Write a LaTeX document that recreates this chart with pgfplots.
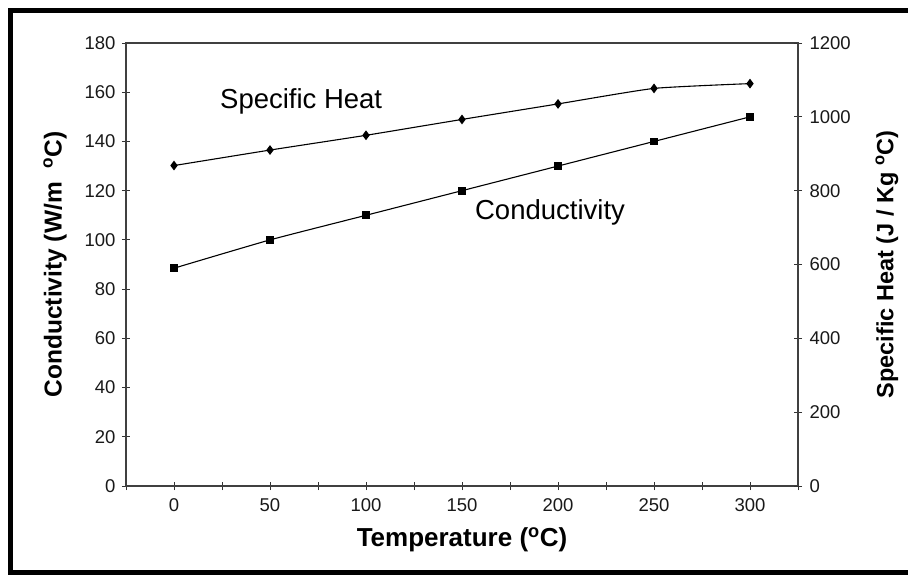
\documentclass[border=0pt]{standalone}
\usepackage{pgfplots}
\pgfplotsset{compat=1.18}
\usepackage{fontspec}
\setmainfont{Liberation Sans}
\begin{document}
\begin{tikzpicture}
\useasboundingbox (0pt,0pt) rectangle (908pt,-574pt);
\fill[white] (0pt,0pt) rectangle (908pt,-574pt);
% outer frame (left, top, bottom)
\draw[line width=4.5pt] (10.5pt,-8pt) -- (10.5pt,-574pt);
\draw[line width=4.5pt] (8pt,-10.5pt) -- (908pt,-10.5pt);
\draw[line width=4.5pt] (8pt,-572.5pt) -- (908pt,-572.5pt);
\pgfplotsset{
  every axis/.append style={
    at={(126pt,-486pt)}, anchor=south west, scale only axis,
    width=672pt, height=443pt,
    xmin=-25, xmax=325,
    tick align=center, major tick length=8pt, minor tick length=8pt,
    every tick/.style={black!80, line width=0.9pt},
    every minor tick/.style={black!80, line width=0.9pt},
    /pgf/number format/assume math mode=true,
    /pgf/number format/1000 sep={},
    tick label style={font=\fontsize{18.5}{18.5}\selectfont, text=black!90},
  }
}
\begin{axis}[
  ymin=0, ymax=180,
  xtick={0,50,...,300}, minor xtick={-25,25,...,325},
  ytick={0,20,...,180},
  xtick pos=left, ytick pos=left,
  axis line style={black!75, line width=1.1pt},
  xticklabel style={yshift=-5pt},
  yticklabel style={xshift=-3pt},
  xlabel={Temperature (\textsuperscript{o}C)},
  ylabel={Conductivity (W/m \ \textsuperscript{o}C)},
  xlabel style={font=\fontsize{26}{26}\selectfont\bfseries, at={(axis description cs:0.5,-0.122)}, anchor=center},
  ylabel style={font=\fontsize{24.5}{24.5}\selectfont\bfseries, at={(axis description cs:-0.1057,0.5)}, anchor=center, rotate=0},
]
\addplot[black, line width=1.1pt, smooth, tension=0.3, mark=square*, mark size=3.3pt, mark options={solid}] coordinates {
  (0,88.5) (50,100) (100,110) (150,120) (200,130) (250,140) (300,150)
};
\node[anchor=base west, font=\fontsize{27.5}{27.5}\selectfont] at (axis cs:22.2,153.5) {Specific Heat};
\node[anchor=base west, font=\fontsize{27.5}{27.5}\selectfont] at (axis cs:155,108.4) {Conductivity};
\end{axis}
\begin{axis}[
  ymin=0, ymax=1200,
  axis x line=none,
  axis y line*=right,
  ytick={0,200,...,1200},
  axis line style={black!75, line width=1.1pt},
  yticklabel style={xshift=4pt},
  ylabel={Specific Heat (J / Kg \textsuperscript{o}C)},
  ylabel style={font=\fontsize{23.5}{23.5}\selectfont\bfseries, at={(axis description cs:1.1324,0.5)}, anchor=center, rotate=0},
]
\addplot[black, line width=1.1pt, smooth, tension=0.3, mark=diamond*, mark size=4pt, mark options={solid}] coordinates {
  (0,868) (50,910) (100,950) (150,993) (200,1035) (250,1077) (300,1090)
};
\end{axis}
\end{tikzpicture}
\end{document}
